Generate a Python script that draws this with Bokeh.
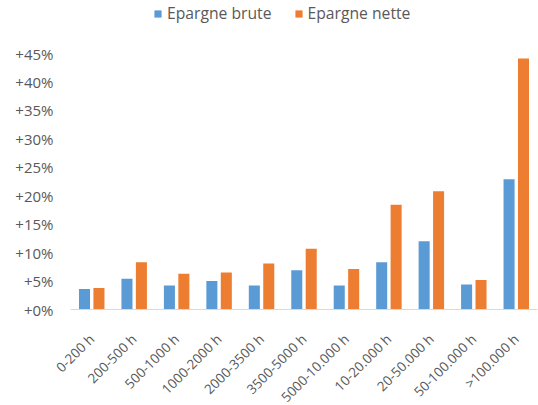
from bokeh.plotting import figure
from bokeh.models import ColumnDataSource, FactorRange, Range1d, Legend, LegendItem, FixedTicker, CustomJSTickFormatter
from bokeh.transform import dodge
from bokeh.embed import file_html
from bokeh.resources import INLINE
import math

categories = ["0-200 h", "200-500 h", "500-1000 h", "1000-2000 h", "2000-3500 h",
              "3500-5000 h", "5000-10.000 h", "10-20.000 h", "20-50.000 h",
              "50-100.000 h", ">100.000 h"]
epargne_brute = [3.6, 5.4, 4.2, 5.0, 4.2, 6.9, 4.2, 8.3, 12.0, 4.4, 22.9]
epargne_nette = [3.8, 8.3, 6.3, 6.5, 8.1, 10.7, 7.1, 18.4, 20.8, 5.2, 44.1]
series_names = ["Epargne brute", "Epargne nette"]
y_ticks = [0, 5, 10, 15, 20, 25, 30, 35, 40, 45]

BLUE = "#5B9BD5"
ORANGE = "#ED7D31"
GREY = "#595959"

src = ColumnDataSource(data=dict(cat=categories, brute=epargne_brute, nette=epargne_nette))

# frame extends to the top of the canvas so the legend (drawn inside the frame) is not clipped;
# the y scale keeps 45% at the same height as in the reference
FRAME_H = 309
p = figure(x_range=FactorRange(*categories, range_padding=0),
           y_range=Range1d(0, 45 * FRAME_H / 256),
           frame_width=467, frame_height=FRAME_H, output_backend="svg", toolbar_location=None,
           min_border_left=70, min_border_right=1, min_border_top=0, min_border_bottom=96)

r1 = p.vbar(x=dodge("cat", -0.17, range=p.x_range), top="brute", width=0.26, source=src,
            color=BLUE, line_color=None)
r2 = p.vbar(x=dodge("cat", 0.17, range=p.x_range), top="nette", width=0.26, source=src,
            color=ORANGE, line_color=None)

p.outline_line_color = None
p.xgrid.grid_line_color = None
p.ygrid.grid_line_color = None
p.background_fill_color = "white"
p.border_fill_color = "white"

# x axis
p.xaxis.axis_line_color = "#D9D9D9"
p.xaxis.axis_line_width = 1
p.xaxis.major_tick_line_color = None
p.xaxis.minor_tick_line_color = None
p.xaxis.major_tick_out = 0
p.xaxis.major_label_orientation = math.pi / 4
p.xaxis.major_label_standoff = 27
p.xaxis.major_label_text_font = "Open Sans"
p.xaxis.major_label_text_font_size = "13.5px"
p.xaxis.major_label_text_color = GREY

# y axis
p.yaxis.ticker = FixedTicker(ticks=y_ticks)
p.yaxis.formatter = CustomJSTickFormatter(code="return '+' + tick.toFixed(0) + '%';")
p.yaxis.axis_line_color = None
p.yaxis.major_tick_line_color = None
p.yaxis.minor_tick_line_color = None
p.yaxis.major_tick_out = 0
p.yaxis.major_label_standoff = 17
p.yaxis.major_label_text_font = "Open Sans"
p.yaxis.major_label_text_font_size = "15px"
p.yaxis.major_label_text_color = GREY

legend = Legend(items=[LegendItem(label=series_names[0], renderers=[r1]),
                       LegendItem(label=series_names[1], renderers=[r2])],
                orientation="horizontal", location=(83, 285))
legend.label_text_font = "Open Sans"
legend.label_text_font_size = "15.7px"
legend.label_text_color = GREY
legend.glyph_width = 9
legend.glyph_height = 9
legend.label_standoff = 5
legend.spacing = 22
legend.border_line_color = None
legend.background_fill_alpha = 0
legend.padding = 0
legend.margin = 0
p.add_layout(legend)

open("out.html", "w").write(file_html(p, INLINE))
